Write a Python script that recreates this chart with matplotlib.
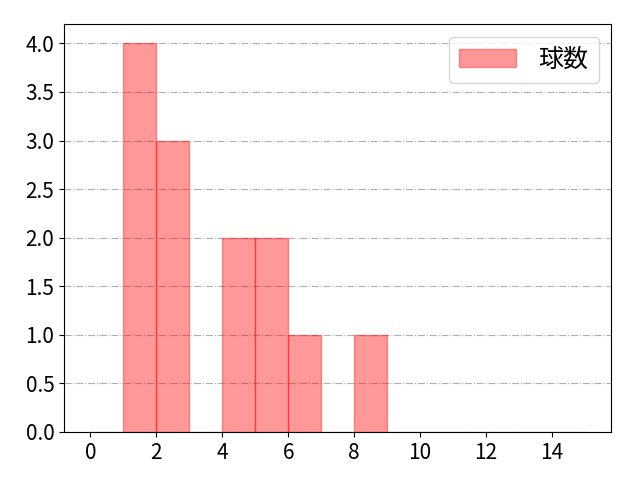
import matplotlib
matplotlib.use("Agg")
import matplotlib.pyplot as plt
import numpy as np

plt.rcParams['font.family'] = ['Noto Sans CJK JP', 'DejaVu Sans']

# pitch counts per bin
bin_edges = list(range(0, 16))
counts = [0, 4, 3, 0, 2, 2, 1, 0, 1, 0, 0, 0, 0, 0, 0]
label = "球数"

fig, ax = plt.subplots(figsize=(6.4, 4.8), dpi=100)
ax.hist(bin_edges[:-1], bins=bin_edges, weights=counts,
        color='red', alpha=0.4, edgecolor='red', linewidth=1, label=label)

ax.set_xlim(-0.8, 15.8)
ax.set_xticks(np.arange(0, 16, 2))
ax.grid(axis='y', linestyle='-.', color='#b0b0b0', linewidth=0.8)
ax.set_axisbelow(True)
ax.tick_params(labelsize=15)
ax.legend(fontsize=18, loc='upper right', handlelength=2.3, handletextpad=0.9)

fig.subplots_adjust(left=0.1, right=0.955, top=0.95, bottom=0.1)
fig.savefig("out.png")
